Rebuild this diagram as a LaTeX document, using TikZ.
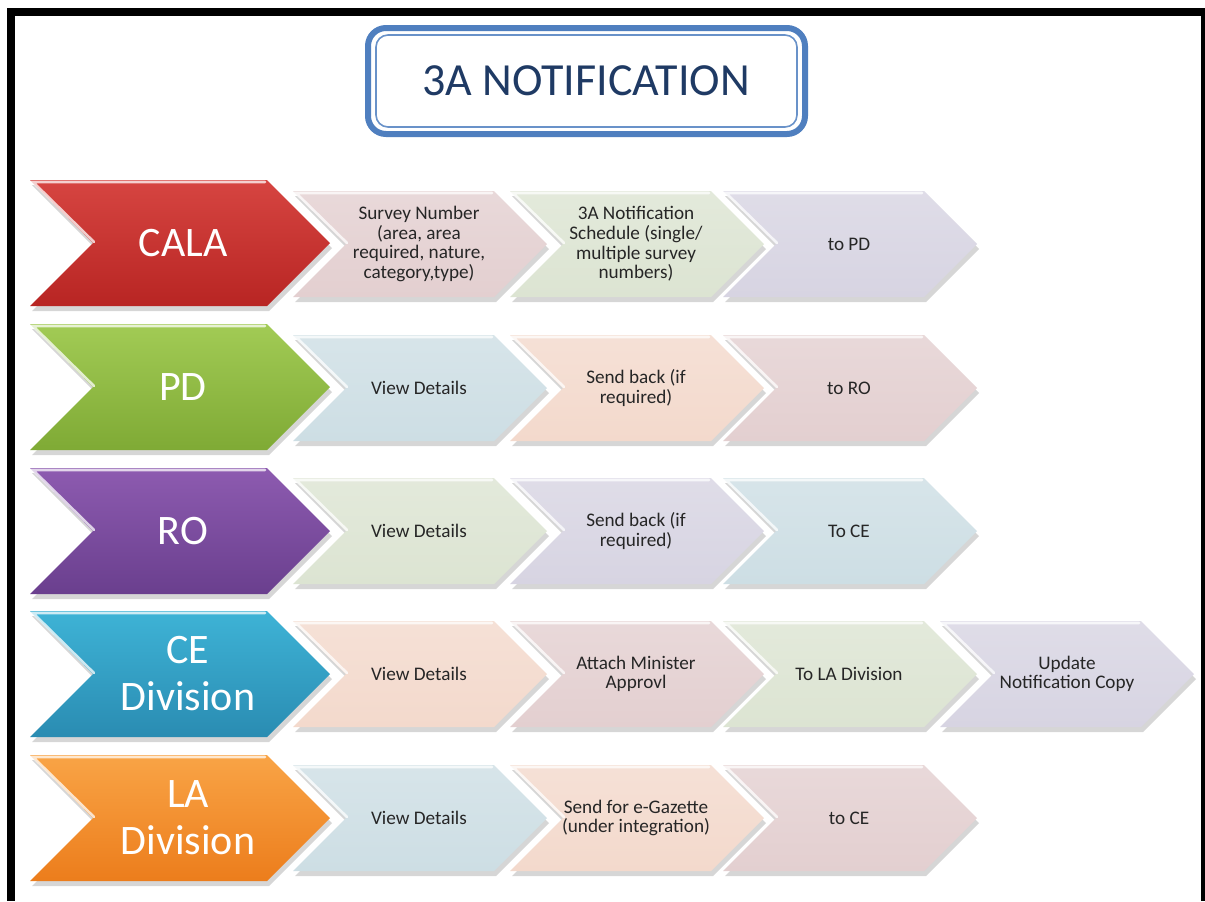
\documentclass[tikz,border=0pt]{standalone}
\usepackage{fontspec}
\setmainfont{Carlito}
\definecolor{redT}{HTML}{D64541}\definecolor{redB}{HTML}{B82523}
\definecolor{grnT}{HTML}{A2CB55}\definecolor{grnB}{HTML}{7FAA35}
\definecolor{purT}{HTML}{8D5BB0}\definecolor{purB}{HTML}{6A3F8E}
\definecolor{tealT}{HTML}{3EB3D6}\definecolor{tealB}{HTML}{2A8CB2}
\definecolor{orgT}{HTML}{F9A446}\definecolor{orgB}{HTML}{EC7D1C}
\definecolor{cPink}{HTML}{E3CFD0}
\definecolor{cGreen}{HTML}{DCE4D2}
\definecolor{cLav}{HTML}{D7D4E2}
\definecolor{cBlue}{HTML}{CDDEE4}
\definecolor{cPeach}{HTML}{F3D9CC}
\definecolor{titleblue}{HTML}{4F7FBF}
\definecolor{titletext}{HTML}{1F3A64}
\newcommand\chevron[6]{%
  \fill[black, opacity=0.16] ({#1+2},{#2-#4+5}) -- ({#1+#3-#4+2},{#2-#4+5}) -- ({#1+#3+2},{#2+5}) -- ({#1+#3-#4+2},{#2+#4+5}) -- ({#1+2},{#2+#4+5}) -- ({#1+#4+2},{#2+5}) -- cycle;
  \shade[top color=#5, bottom color=#6] ({#1},{#2-#4}) -- ({#1+#3-#4},{#2-#4}) -- ({#1+#3},{#2}) -- ({#1+#3-#4},{#2+#4}) -- ({#1},{#2+#4}) -- ({#1+#4},{#2}) -- cycle;
  \draw[white, line width=1.3pt, opacity=0.75, line cap=round] ({#1+#4+1},{#2-1}) -- ({#1+3},{#2-#4+2}) -- ({#1+#3-#4-2},{#2-#4+2});
}
\tikzset{
  bigtext/.style={text=white, font=\fontsize{21}{23.5}\selectfont, align=center},
  smalltext/.style={text=black!85, font=\fontsize{9.6}{9.8}\selectfont, align=center},
  titlestyle/.style={text=titletext, font=\fontsize{23}{26}\selectfont},
}
\begin{document}
\begin{tikzpicture}[x=0.5pt,y=-0.5pt]
\useasboundingbox (0,0) rectangle (1205,901);
\fill[white] (0,0) rectangle (1205,901);
% frame
\fill[black] (7,8) rectangle (1205,16);
\fill[black] (7,8) rectangle (15,901);
\fill[black] (1201,8) rectangle (1205,901);
% title
\draw[line width=3pt, draw=titleblue, rounded corners=9pt] (368,28) rectangle (805,134);
\draw[line width=0.8pt, draw=titleblue!85, rounded corners=6pt] (376,35) rectangle (797,127);
\node[titlestyle] (title) at (586,81) {3A NOTIFICATION};

% Row 1
\chevron{30}{243}{300}{63}{redT}{redB}
\chevron{293}{244}{254}{53}{cPink!80!white}{cPink}
\chevron{510}{244}{254}{53}{cGreen!80!white}{cGreen}
\chevron{723}{244}{254}{53}{cLav!80!white}{cLav}
\node[bigtext] (cala) at (183,243) {CALA};
\node[smalltext] (r1a) at (419,244) {Survey Number\\(area, area\\required, nature,\\category,type)};
\node[smalltext] (r1b) at (636,244) {3A Notification\\Schedule (single/\\multiple survey\\numbers)};
\node[smalltext] (r1c) at (849,244) {to PD};

% Row 2
\chevron{30}{387}{300}{63}{grnT}{grnB}
\chevron{293}{388}{254}{53}{cBlue!80!white}{cBlue}
\chevron{510}{388}{254}{53}{cPeach!80!white}{cPeach}
\chevron{723}{388}{254}{53}{cPink!80!white}{cPink}
\node[bigtext] (pd) at (183,387) {PD};
\node[smalltext] (r2a) at (419,388) {View Details};
\node[smalltext] (r2b) at (636,388) {Send back (if\\required)};
\node[smalltext] (r2c) at (849,388) {to RO};

% Row 3
\chevron{30}{531}{300}{63}{purT}{purB}
\chevron{293}{531}{254}{53}{cGreen!80!white}{cGreen}
\chevron{510}{531}{254}{53}{cLav!80!white}{cLav}
\chevron{723}{531}{254}{53}{cBlue!80!white}{cBlue}
\node[bigtext] (ro) at (183,531) {RO};
\node[smalltext] (r3a) at (419,531) {View Details};
\node[smalltext] (r3b) at (636,531) {Send back (if\\required)};
\node[smalltext] (r3c) at (849,531) {To CE};

% Row 4
\chevron{30}{674}{300}{63}{tealT}{tealB}
\chevron{293}{674}{254}{53}{cPeach!80!white}{cPeach}
\chevron{510}{674}{254}{53}{cPink!80!white}{cPink}
\chevron{723}{674}{254}{53}{cGreen!80!white}{cGreen}
\chevron{940}{674}{254}{53}{cLav!80!white}{cLav}
\node[bigtext] (ce) at (188,674) {CE\\Division};
\node[smalltext] (r4a) at (419,674) {View Details};
\node[smalltext] (r4b) at (636,674) {Attach Minister\\Approvl};
\node[smalltext] (r4c) at (849,674) {To LA Division};
\node[smalltext] (r4d) at (1067,674) {Update\\Notification Copy};

% Row 5
\chevron{30}{818}{300}{63}{orgT}{orgB}
\chevron{293}{818}{254}{53}{cBlue!80!white}{cBlue}
\chevron{510}{818}{254}{53}{cPeach!80!white}{cPeach}
\chevron{723}{818}{254}{53}{cPink!80!white}{cPink}
\node[bigtext] (la) at (188,818) {LA\\Division};
\node[smalltext] (r5a) at (419,818) {View Details};
\node[smalltext] (r5b) at (636,818) {Send for e-Gazette\\(under integration)};
\node[smalltext] (r5c) at (849,818) {to CE};
\end{tikzpicture}
\end{document}
